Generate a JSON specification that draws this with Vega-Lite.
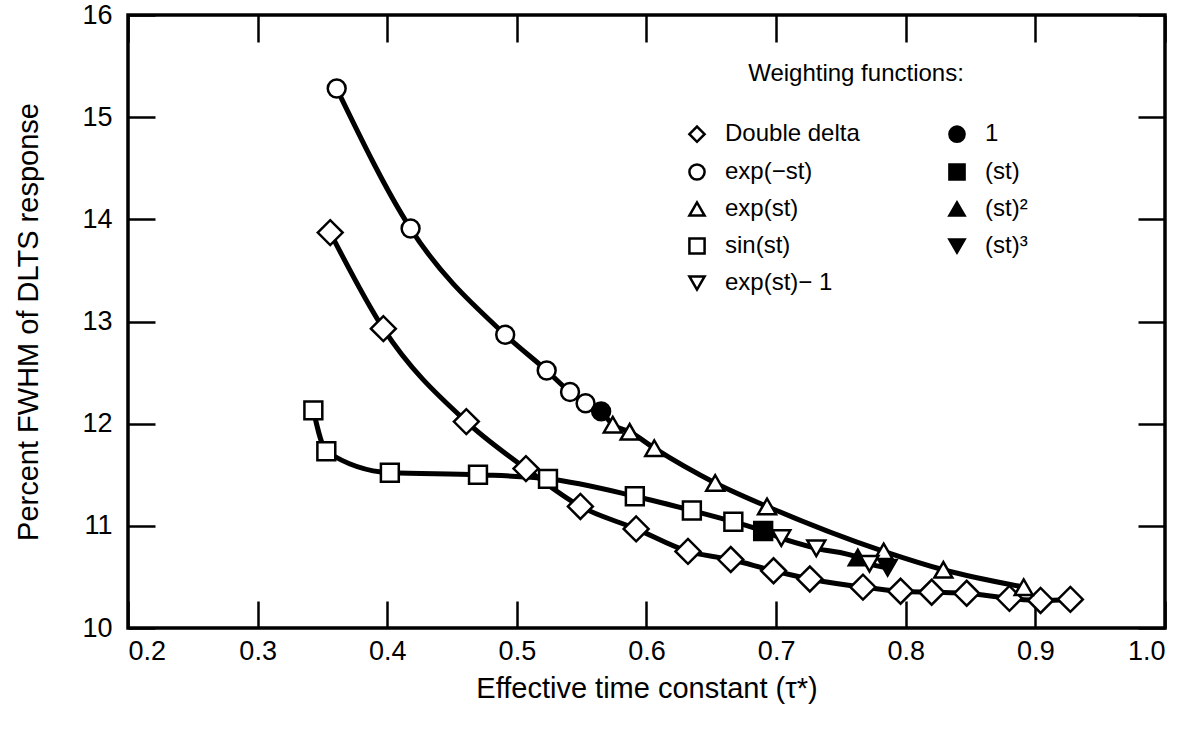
{
  "$schema": "https://vega.github.io/schema/vega-lite/v6.json",
  "autosize": {"type": "none"},
  "width": 1037,
  "height": 613,
  "padding": {"left": 128, "top": 15, "right": 13, "bottom": 110},
  "background": "white",
  "config": {
    "font": "Liberation Sans",
    "view": {"stroke": "black", "strokeWidth": 3.5},
    "axis": {
      "domain": false,
      "grid": false,
      "tickColor": "black",
      "tickWidth": 2.5,
      "tickSize": -27,
      "labelColor": "black",
      "labelFont": "Liberation Sans",
      "labelFontSize": 27,
      "titleColor": "black",
      "titleFont": "Liberation Sans",
      "titleFontSize": 29,
      "titleFontWeight": "normal"
    },
    "legend": {
      "titleFont": "Liberation Sans",
      "titleFontSize": 24,
      "titleFontWeight": "normal",
      "titleColor": "black",
      "titleLimit": 500,
      "labelFont": "Liberation Sans",
      "labelFontSize": 24,
      "labelColor": "black",
      "labelLimit": 300,
      "symbolStrokeWidth": 2.5
    }
  },
  "data": {
    "values": [
      {"curve": "dd", "marker": "Double delta", "x": 0.356, "y": 13.87},
      {"curve": "dd", "marker": "Double delta", "x": 0.397, "y": 12.93},
      {"curve": "dd", "marker": "Double delta", "x": 0.461, "y": 12.02},
      {"curve": "dd", "marker": "Double delta", "x": 0.507, "y": 11.56},
      {"curve": "dd", "marker": "Double delta", "x": 0.549, "y": 11.19},
      {"curve": "dd", "marker": "Double delta", "x": 0.592, "y": 10.97},
      {"curve": "dd", "marker": "Double delta", "x": 0.632, "y": 10.75},
      {"curve": "dd", "marker": "Double delta", "x": 0.665, "y": 10.67},
      {"curve": "dd", "marker": "Double delta", "x": 0.698, "y": 10.56},
      {"curve": "dd", "marker": "Double delta", "x": 0.726, "y": 10.48},
      {"curve": "dd", "marker": "Double delta", "x": 0.767, "y": 10.40},
      {"curve": "dd", "marker": "Double delta", "x": 0.796, "y": 10.36},
      {"curve": "dd", "marker": "Double delta", "x": 0.820, "y": 10.35},
      {"curve": "dd", "marker": "Double delta", "x": 0.847, "y": 10.34},
      {"curve": "dd", "marker": "Double delta", "x": 0.880, "y": 10.29},
      {"curve": "dd", "marker": "Double delta", "x": 0.904, "y": 10.27},
      {"curve": "dd", "marker": "Double delta", "x": 0.927, "y": 10.28},
      {"curve": "up", "marker": "exp(−st)", "x": 0.361, "y": 15.28},
      {"curve": "up", "marker": "exp(−st)", "x": 0.418, "y": 13.91},
      {"curve": "up", "marker": "exp(−st)", "x": 0.491, "y": 12.87},
      {"curve": "up", "marker": "exp(−st)", "x": 0.523, "y": 12.52},
      {"curve": "up", "marker": "exp(−st)", "x": 0.541, "y": 12.31},
      {"curve": "up", "marker": "exp(−st)", "x": 0.553, "y": 12.20},
      {"curve": "up", "marker": "1", "x": 0.565, "y": 12.12},
      {"curve": "up", "marker": "exp(st)", "x": 0.574, "y": 11.99},
      {"curve": "up", "marker": "exp(st)", "x": 0.587, "y": 11.92},
      {"curve": "up", "marker": "exp(st)", "x": 0.606, "y": 11.76},
      {"curve": "up", "marker": "exp(st)", "x": 0.653, "y": 11.42},
      {"curve": "up", "marker": "exp(st)", "x": 0.693, "y": 11.19},
      {"curve": "up", "marker": "exp(st)", "x": 0.783, "y": 10.75},
      {"curve": "up", "marker": "exp(st)", "x": 0.829, "y": 10.57},
      {"curve": "up", "marker": "exp(st)", "x": 0.891, "y": 10.40},
      {"curve": "mid", "marker": "sin(st)", "x": 0.343, "y": 12.13},
      {"curve": "mid", "marker": "sin(st)", "x": 0.353, "y": 11.73},
      {"curve": "mid", "marker": "sin(st)", "x": 0.402, "y": 11.52},
      {"curve": "mid", "marker": "sin(st)", "x": 0.470, "y": 11.50},
      {"curve": "mid", "marker": "sin(st)", "x": 0.524, "y": 11.46},
      {"curve": "mid", "marker": "sin(st)", "x": 0.591, "y": 11.29},
      {"curve": "mid", "marker": "sin(st)", "x": 0.635, "y": 11.15},
      {"curve": "mid", "marker": "sin(st)", "x": 0.667, "y": 11.04},
      {"curve": "mid", "marker": "(st)", "x": 0.690, "y": 10.95},
      {"curve": "mid", "marker": "exp(st)− 1", "x": 0.704, "y": 10.88},
      {"curve": "mid", "marker": "exp(st)− 1", "x": 0.731, "y": 10.78},
      {"curve": "mid", "marker": "(st)²", "x": 0.763, "y": 10.69},
      {"curve": "mid", "marker": "exp(st)− 1", "x": 0.772, "y": 10.63},
      {"curve": "mid", "marker": "(st)³", "x": 0.786, "y": 10.59}
    ]
  },
  "resolve": {"axis": {"x": "independent", "y": "independent"}},
  "layer": [
    {
      "mark": {"type": "line", "color": "black", "strokeWidth": 5, "interpolate": "monotone"},
      "encoding": {
        "x": {
          "field": "x", "type": "quantitative",
          "scale": {"domain": [0.2, 1.0], "nice": false, "zero": false},
          "axis": {"values": [0.2, 0.3, 0.4, 0.5, 0.6, 0.7, 0.8, 0.9, 1.0], "format": ".1f", "labelPadding": 37, "title": "Effective time constant (τ*)", "titlePadding": 10}
        },
        "y": {
          "field": "y", "type": "quantitative",
          "scale": {"domain": [10, 16], "nice": false, "zero": false},
          "axis": {"values": [10, 11, 12, 13, 14, 15, 16], "labelPadding": 43, "title": "Percent FWHM of DLTS response", "titlePadding": 38}
        },
        "detail": {"field": "curve"},
        "order": {"field": "x", "type": "quantitative"}
      }
    },
    {
      "transform": [{"filter": "datum.marker === 'Double delta'"}],
      "mark": {"type": "point", "filled": true, "strokeWidth": 2.5, "opacity": 1, "fillOpacity": 1, "strokeOpacity": 1, "size": 620},
      "encoding": {
        "x": {
          "field": "x", "type": "quantitative",
          "scale": {"domain": [0.2, 1.0], "nice": false, "zero": false},
          "axis": {"orient": "top", "values": [0.2, 0.3, 0.4, 0.5, 0.6, 0.7, 0.8, 0.9, 1.0], "labels": false, "title": null}
        },
        "y": {
          "field": "y", "type": "quantitative",
          "scale": {"domain": [10, 16], "nice": false, "zero": false},
          "axis": {"orient": "right", "values": [10, 11, 12, 13, 14, 15, 16], "labels": false, "title": null}
        },
        "shape": {
          "field": "marker", "type": "nominal",
          "scale": {
            "domain": ["Double delta", "exp(−st)", "exp(st)", "sin(st)", "exp(st)− 1", "1", "(st)", "(st)²", "(st)³"],
            "range": ["diamond", "circle", "triangle-up", "square", "triangle-down", "circle", "square", "triangle-up", "triangle-down"]
          },
          "legend": {
            "title": "Weighting functions:",
            "orient": "none",
            "legendX": 557,
            "legendY": 47,
            "columns": 2,
            "columnPadding": 84,
            "rowPadding": 12,
            "titleAnchor": "middle",
            "titlePadding": 36,
            "labelOffset": 16,
            "symbolSize": 230
          }
        },
        "fill": {
          "field": "marker", "type": "nominal",
          "scale": {
            "domain": ["Double delta", "exp(−st)", "exp(st)", "sin(st)", "exp(st)− 1", "1", "(st)", "(st)²", "(st)³"],
            "range": ["white", "white", "white", "white", "white", "black", "black", "black", "black"]
          },
          "legend": {
            "title": "Weighting functions:",
            "orient": "none",
            "legendX": 557,
            "legendY": 47,
            "columns": 2,
            "columnPadding": 84,
            "rowPadding": 12,
            "titleAnchor": "middle",
            "titlePadding": 36,
            "labelOffset": 16,
            "symbolSize": 230
          }
        },
        "stroke": {
          "field": "marker", "type": "nominal",
          "scale": {
            "domain": ["Double delta", "exp(−st)", "exp(st)", "sin(st)", "exp(st)− 1", "1", "(st)", "(st)²", "(st)³"],
            "range": ["black", "black", "black", "black", "black", "black", "black", "black", "black"]
          },
          "legend": {
            "title": "Weighting functions:",
            "orient": "none",
            "legendX": 557,
            "legendY": 47,
            "columns": 2,
            "columnPadding": 84,
            "rowPadding": 12,
            "titleAnchor": "middle",
            "titlePadding": 36,
            "labelOffset": 16,
            "symbolSize": 230
          }
        }
      }
    },
    {
      "transform": [{"filter": "datum.marker !== 'Double delta'"}],
      "mark": {"type": "point", "filled": true, "strokeWidth": 2.5, "opacity": 1, "fillOpacity": 1, "strokeOpacity": 1, "size": 320},
      "encoding": {
        "x": {"field": "x", "type": "quantitative", "axis": null},
        "y": {"field": "y", "type": "quantitative", "axis": null},
        "shape": {"field": "marker", "type": "nominal"},
        "fill": {"field": "marker", "type": "nominal"},
        "stroke": {"field": "marker", "type": "nominal"}
      }
    }
  ]
}
